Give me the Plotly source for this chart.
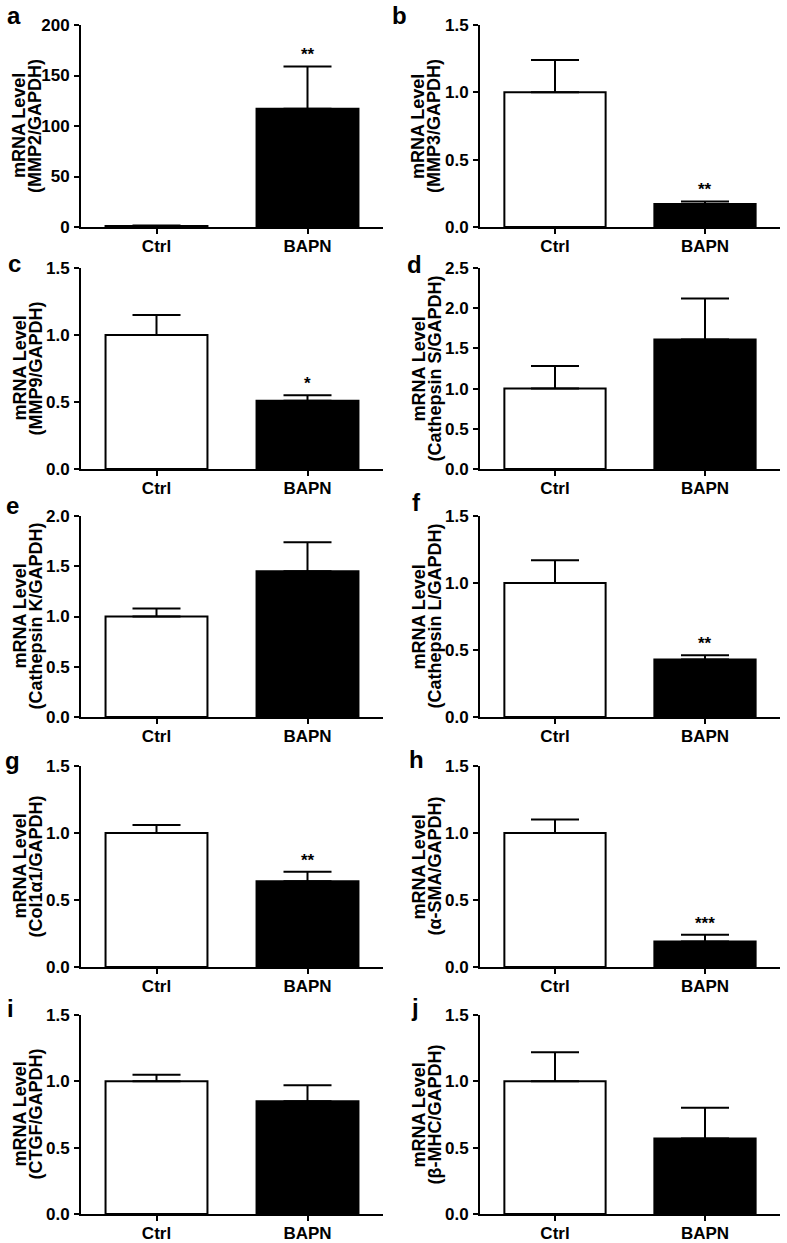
import plotly.graph_objects as go
from plotly.subplots import make_subplots

# ---------------- data ----------------
categories = ["Ctrl", "BAPN"]
panel_letters = ["a", "b", "c", "d", "e", "f", "g", "h", "i", "j"]
genes = ["MMP2/GAPDH", "MMP3/GAPDH", "MMP9/GAPDH", "Cathepsin S/GAPDH",
         "Cathepsin K/GAPDH", "Cathepsin L/GAPDH", "Col1α1/GAPDH", "α-SMA/GAPDH",
         "CTGF/GAPDH", "β-MHC/GAPDH"]
ctrl_mean = [1.0, 1.0, 1.0, 1.0, 1.0, 1.0, 1.0, 1.0, 1.0, 1.0]
ctrl_sem = [0.4, 0.24, 0.15, 0.28, 0.08, 0.17, 0.06, 0.10, 0.05, 0.22]
bapn_mean = [117.0, 0.17, 0.51, 1.61, 1.45, 0.43, 0.64, 0.19, 0.85, 0.57]
bapn_sem = [42.0, 0.02, 0.04, 0.51, 0.29, 0.03, 0.07, 0.05, 0.12, 0.23]
significance = ["**", "**", "*", "", "", "**", "**", "***", "", ""]
y_max = [200, 1.5, 1.5, 2.5, 2.0, 1.5, 1.5, 1.5, 1.5, 1.5]
y_dtick = [50, 0.5, 0.5, 0.5, 0.5, 0.5, 0.5, 0.5, 0.5, 0.5]
y_format = ["d", ".1f", ".1f", ".1f", ".1f", ".1f", ".1f", ".1f", ".1f", ".1f"]

# ---------------- layout geometry (page px) ----------------
W, H = 787, 1243
col_px = [(81, 383), (480, 780)]
row_px = [(25, 227), (268, 469), (516, 717), (766, 967), (1015, 1214)]
# (x centre, y, y-anchor) of each panel letter
letter_px = [(14, 0, "top"), (399, 0, "top"), (14, 263, "middle"), (414, 264, "middle"),
             (12, 506, "middle"), (416, 503, "middle"), (12, 761, "middle"),
             (416, 760, "middle"), (10, 1008, "middle"), (415, 1007, "middle")]


def px_x(v):
    return v / W


def px_y(v):
    return 1 - v / H


FONT = "Liberation Sans, Arial, Helvetica, sans-serif"

fig = make_subplots(rows=5, cols=2)

annotations = []
for i in range(10):
    r, c = i // 2 + 1, i % 2 + 1
    x0, x1 = col_px[c - 1]
    t, b = row_px[r - 1]
    fig.add_trace(go.Bar(
        x=categories, y=[ctrl_mean[i], bapn_mean[i]],
        marker=dict(color=["white", "black"], line=dict(color="black", width=2)),
        width=0.675,
        error_y=dict(type="data", symmetric=False,
                     array=[ctrl_sem[i], bapn_sem[i]], arrayminus=[0, 0],
                     color="black", thickness=2, width=24),
        showlegend=False, hoverinfo="skip"), row=r, col=c)

    xa = "xaxis" if i == 0 else f"xaxis{i+1}"
    ya = "yaxis" if i == 0 else f"yaxis{i+1}"
    fig.layout[xa].update(
        domain=[px_x(x0), px_x(x1)], range=[-0.5, 1.5], automargin=False,
        showline=True, linecolor="black", linewidth=2,
        ticks="outside", ticklen=5, tickwidth=2, tickcolor="black",
        ticklabelstandoff=-2,
        showgrid=False, zeroline=False,
        tickfont=dict(family=FONT, size=17, color="black", weight="bold"),
        fixedrange=True)
    fig.layout[ya].update(
        domain=[px_y(b), px_y(t)], range=[0, y_max[i]], automargin=False,
        dtick=y_dtick[i], tick0=0, tickformat=y_format[i],
        showline=True, linecolor="black", linewidth=2,
        ticks="outside", ticklen=5, tickwidth=2, tickcolor="black",
        ticklabelstandoff=1,
        showgrid=False, zeroline=False,
        tickfont=dict(family=FONT, size=17, color="black", weight="bold"),
        fixedrange=True)

    # y axis titles (two lines)
    yc = px_y((t + b) / 2)
    for txt, dx in (("mRNA Level", -62), ("(" + genes[i] + ")", -46)):
        annotations.append(dict(
            x=px_x(x0 + dx), y=yc, xref="paper", yref="paper",
            text=txt, textangle=-90, showarrow=False,
            xanchor="center", yanchor="middle",
            font=dict(family=FONT, size=18, color="black", weight="bold")))

    # panel letter
    lx, ly, lanchor = letter_px[i]
    annotations.append(dict(
        x=px_x(lx), y=px_y(ly), xref="paper", yref="paper",
        text=panel_letters[i], showarrow=False,
        xanchor="center", yanchor=lanchor,
        font=dict(family=FONT, size=24, color="black", weight="bold")))

    # significance stars
    if significance[i]:
        xr = "x" if i == 0 else f"x{i+1}"
        yr = "y" if i == 0 else f"y{i+1}"
        annotations.append(dict(
            x="BAPN", y=bapn_mean[i] + bapn_sem[i], xref=xr, yref=yr,
            text=significance[i], showarrow=False,
            xanchor="center", yanchor="bottom", yshift=0,
            font=dict(family=FONT, size=17, color="black", weight="bold")))

fig.update_layout(
    width=W, height=H,
    margin=dict(l=0, r=0, t=0, b=0, autoexpand=False),
    paper_bgcolor="white", plot_bgcolor="white",
    annotations=annotations,
    bargap=0.3,
)

fig.write_html("out.html", config={"displayModeBar": False},
               post_script="document.body.style.margin='0px';")
